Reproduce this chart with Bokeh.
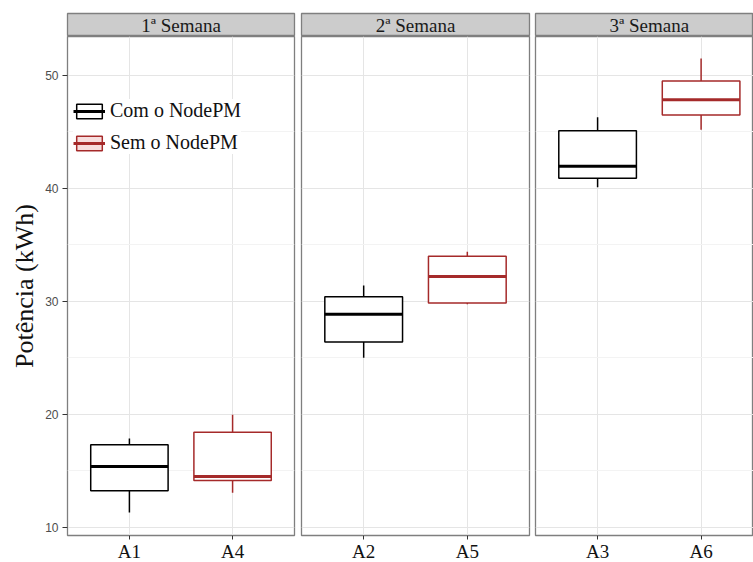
from bokeh.plotting import figure
from bokeh.layouts import column, row
from bokeh.models import Range1d, FixedTicker, Label, Legend, LegendItem, ColumnDataSource
from bokeh.embed import file_html
from bokeh.resources import INLINE

# ---------------- data ----------------
semanas = ["1ª Semana", "2ª Semana", "3ª Semana"]
series_names = ["Com o NodePM", "Sem o NodePM"]
com_labels = ["A1", "A2", "A3"]
sem_labels = ["A4", "A5", "A6"]

com_min = [11.3, 25.0, 40.1]
com_q1 = [13.22, 26.4, 40.9]
com_med = [15.38, 28.85, 41.97]
com_q3 = [17.3, 30.4, 45.1]
com_max = [17.86, 31.4, 46.3]

sem_min = [13.05, 29.75, 45.2]
sem_q1 = [14.14, 29.85, 46.5]
sem_med = [14.49, 32.2, 47.85]
sem_q3 = [18.41, 34.0, 49.5]
sem_max = [19.96, 34.4, 51.5]

y_ticks = [10, 20, 30, 40, 50]
y_minor = [15, 25, 35, 45]

# ---------------- style ----------------
colors = ["#000000", "#A52A2A"]
legend_fill = ["#ffffff", "#f7dede"]
SERIF = "Liberation Serif"
SANS = "Liberation Sans"
Y0, Y1 = 9.265, 53.45
BOX_W = 0.75
FRAME_H = 499
STRIP_H = 23
frame_widths = [227, 228, 218]
x_ends = [2.6, 2.6, 0.4 + 218 / 103.5]
left_borders = [67, 4, 3]
right_borders = [3, 3, 0]

stats = [
    (com_labels, com_min, com_q1, com_med, com_q3, com_max),
    (sem_labels, sem_min, sem_q1, sem_med, sem_q3, sem_max),
]
NAN = float("nan")

strips, panels = [], []
for i in range(3):
    xr = Range1d(0.4, x_ends[i])
    s = figure(frame_width=frame_widths[i], frame_height=STRIP_H, x_range=xr,
               y_range=Range1d(0, 1), toolbar_location=None, output_backend="svg",
               x_axis_location=None, y_axis_location=None,
               min_border_left=left_borders[i], min_border_right=right_borders[i],
               min_border_top=13, min_border_bottom=0)
    s.grid.visible = False
    s.background_fill_color = "#cccccc"
    s.outline_line_color = "#7f7f7f"
    s.outline_line_width = 1.3
    s.add_layout(Label(x=1.5, y=0.5, text=semanas[i], text_align="center",
                       text_baseline="middle", text_font=SERIF,
                       text_font_size="19px", text_color="#1a1a1a"))
    strips.append(s)

    p = figure(frame_width=frame_widths[i], frame_height=FRAME_H, x_range=xr,
               y_range=Range1d(Y0, Y1), toolbar_location=None, output_backend="svg",
               y_axis_location="left" if i == 0 else None,
               min_border_left=left_borders[i], min_border_right=right_borders[i],
               min_border_top=0, min_border_bottom=0)
    p.outline_line_color = "#7f7f7f"
    p.outline_line_width = 1.3
    p.background_fill_color = "white"

    p.xgrid.ticker = FixedTicker(ticks=[1, 2])
    p.xgrid.grid_line_color = "#e5e5e5"
    p.ygrid.ticker = FixedTicker(ticks=y_ticks, minor_ticks=y_minor)
    p.ygrid.grid_line_color = "#e5e5e5"
    p.ygrid.minor_grid_line_color = "#f3f3f3"

    p.xaxis.ticker = FixedTicker(ticks=[1, 2])
    p.xaxis.major_label_overrides = {1: com_labels[i], 2: sem_labels[i]}
    p.xaxis.axis_line_color = None
    p.xaxis.major_tick_in = 0
    p.xaxis.major_tick_out = 4
    p.xaxis.major_tick_line_color = "#333333"
    p.xaxis.minor_tick_line_color = None
    p.xaxis.major_label_text_font = SERIF
    p.xaxis.major_label_text_font_size = "19px"
    p.xaxis.major_label_text_color = "#111111"
    p.xaxis.major_label_standoff = 1

    if i == 0:
        p.yaxis.ticker = FixedTicker(ticks=y_ticks)
        p.yaxis.axis_line_color = None
        p.yaxis.major_tick_in = 0
        p.yaxis.major_tick_out = 5
        p.yaxis.major_tick_line_color = "#333333"
        p.yaxis.minor_tick_line_color = None
        p.yaxis.major_label_text_font = SANS
        p.yaxis.major_label_text_font_size = "12px"
        p.yaxis.major_label_text_color = "#4d4d4d"
        p.yaxis.major_label_standoff = 4
        p.yaxis.axis_label = "Potência (kWh)"
        p.yaxis.axis_label_text_font = SERIF
        p.yaxis.axis_label_text_font_style = "normal"
        p.yaxis.axis_label_text_font_size = "26px"
        p.yaxis.axis_label_text_color = "#111111"
        p.yaxis.axis_label_standoff = 3

    for j, (labs, mn, q1, md, q3, mx) in enumerate(stats):
        pos = j + 1
        src = ColumnDataSource(dict(
            x=[pos], left=[pos - BOX_W / 2], right=[pos + BOX_W / 2],
            mn=[mn[i]], q1=[q1[i]], md=[md[i]], q3=[q3[i]], mx=[mx[i]]))
        p.segment(x0="x", y0="q3", x1="x", y1="mx", source=src,
                  line_color=colors[j], line_width=1.5)
        p.segment(x0="x", y0="q1", x1="x", y1="mn", source=src,
                  line_color=colors[j], line_width=1.5)
        p.quad(left="left", right="right", bottom="q1", top="q3", source=src,
               fill_color="white", line_color=colors[j], line_width=1.5)
        p.segment(x0="left", y0="md", x1="right", y1="md", source=src,
                  line_color=colors[j], line_width=3)

    if i == 0:
        items = []
        for j in range(2):
            lb = p.quad(left=[NAN], right=[NAN], top=[NAN], bottom=[NAN],
                        fill_color=legend_fill[j], line_color=colors[j], line_width=1.5)
            lm = p.segment(x0=[NAN], y0=[NAN], x1=[NAN], y1=[NAN],
                           line_color=colors[j], line_width=3)
            items.append(LegendItem(label=series_names[j], renderers=[lb, lm]))
        legend = Legend(items=items, location=(6, 381),
                        background_fill_color="white", background_fill_alpha=1,
                        border_line_color=None, label_text_font=SERIF,
                        label_text_font_size="20px", label_text_color="#111111",
                        glyph_width=32, glyph_height=18, label_height=18,
                        spacing=9, padding=2, margin=0, label_standoff=5)
        p.add_layout(legend)
    panels.append(p)

layout = column(row(*strips), row(*panels))
open("out.html", "w").write(file_html(layout, INLINE))
